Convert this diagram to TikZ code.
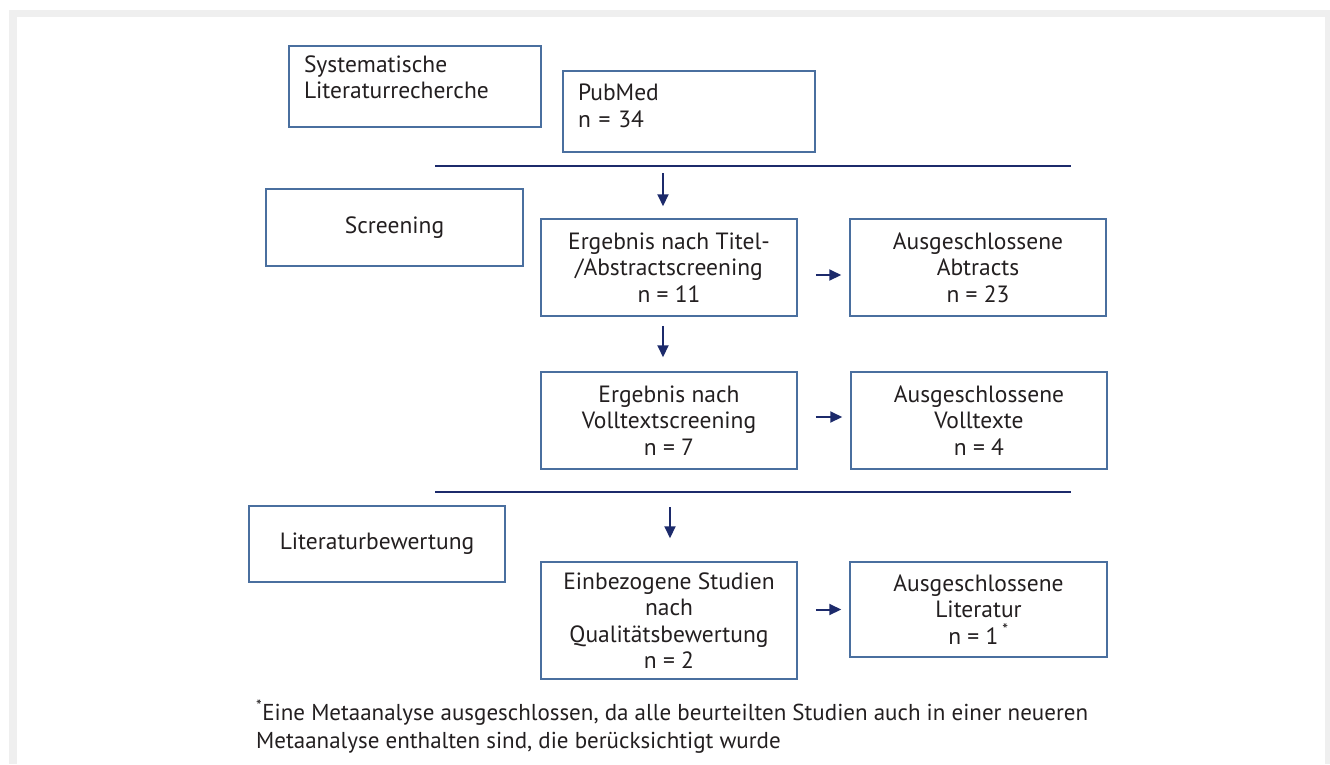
\documentclass[tikz,border=0pt]{standalone}
\usepackage{fontspec}
\setmainfont{PT Sans}
\usetikzlibrary{arrows.meta}

\definecolor{boxblau}{HTML}{4A6F9F}
\definecolor{linie}{HTML}{1C2A6B}
\definecolor{schrift}{HTML}{231F20}
\definecolor{rahmen}{HTML}{EFEFEF}

\begin{document}
\begin{tikzpicture}[x=1pt,y=-1pt,
    kasten/.style={draw=boxblau, line width=1.5pt, text=schrift, align=center,
        font=\fontsize{23.5}{26.5}\selectfont, inner sep=0pt, minimum width=256pt},
    links/.style={kasten, align=left, text width=222pt, minimum width=252pt},
    pfeil/.style={draw=linie, line width=2pt, -{Triangle[length=12pt,width=11pt]}},
    trennlinie/.style={draw=linie, line width=2pt}]
    \useasboundingbox (0,0) rectangle (1330,764);

    % Rahmen
    \fill[rahmen] (9,10) rectangle (1330,764);
    \fill[white] (17,17) rectangle (1325,764);

    % Phasen links
    \node[links, minimum height=81pt] (suche) at (415,86.5) {Systematische\\Literaturrecherche\\[-8pt]\mbox{}};
    \node[kasten, minimum width=257pt, minimum height=77pt] (screening) at (394.5,227.5) {Screening};
    \node[kasten, minimum height=76pt] (bewertung) at (377,544) {Literaturbewertung};

    % Ergebnisse
    \node[links, minimum height=81pt] (pubmed) at (689,111.5) {PubMed\\n = 34\\[-15pt]\mbox{}};
    \node[kasten, minimum height=97pt] (titel) at (669,267.5) {Ergebnis nach Titel-\\/Abstractscreening\\n = 11};
    \node[kasten, minimum height=97pt] (volltext) at (669,420.5) {Ergebnis nach\\Volltextscreening\\n = 7};
    \node[kasten, minimum height=117pt] (studien) at (669,620.5) {Einbezogene Studien\\nach\\Qualitätsbewertung\\n = 2};

    % Ausschluesse
    \node[kasten, minimum height=97pt] (abstracts) at (978,267.5) {Ausgeschlossene\\Abtracts\\n = 23};
    \node[kasten, minimum height=97pt] (volltexte) at (979,420.5) {Ausgeschlossene\\Volltexte\\n = 4};
    \node[kasten, minimum width=257pt, minimum height=95pt] (literatur) at (978.5,609.5) {Ausgeschlossene\\Literatur\\n = 1\,\textsuperscript{*}};

    % Trennlinien
    \draw[trennlinie] (435,166) -- (1071,166);
    \draw[trennlinie] (435,492) -- (1071,492);
    \coordinate (linie1) at (663,166);
    \coordinate (linie2) at (670,492);

    % Pfeile nach unten
    \draw[pfeil, shorten <=7pt, shorten >=12pt] (linie1) -- (linie1 |- titel.north);
    \draw[pfeil, shorten <=9pt, shorten >=14pt] (linie1 |- titel.south) -- (linie1 |- volltext.north);
    \draw[pfeil, shorten <=15pt, shorten >=23pt] (linie2) -- (linie2 |- studien.north);

    % Pfeile nach rechts
    \draw[pfeil, shorten <=18pt, shorten >=8pt] ([yshift=-7.5pt]titel.east) -- ([yshift=-7.5pt]abstracts.west);
    \draw[pfeil, shorten <=18pt, shorten >=8pt] ([yshift=3.5pt]volltext.east) -- ([yshift=3.5pt]volltexte.west);
    \draw[pfeil, shorten <=18pt, shorten >=8pt] (studien.east |- literatur.west) -- (literatur.west);

    % Fussnote
    \node[font=\fontsize{23}{28}\selectfont, text=schrift, align=left, inner sep=0pt, anchor=north west] (fussnote) at (256,700)
        {\textsuperscript{*}Eine Metaanalyse ausgeschlossen, da alle beurteilten Studien auch in einer neueren\\Metaanalyse enthalten sind, die berücksichtigt wurde};
\end{tikzpicture}
\end{document}
